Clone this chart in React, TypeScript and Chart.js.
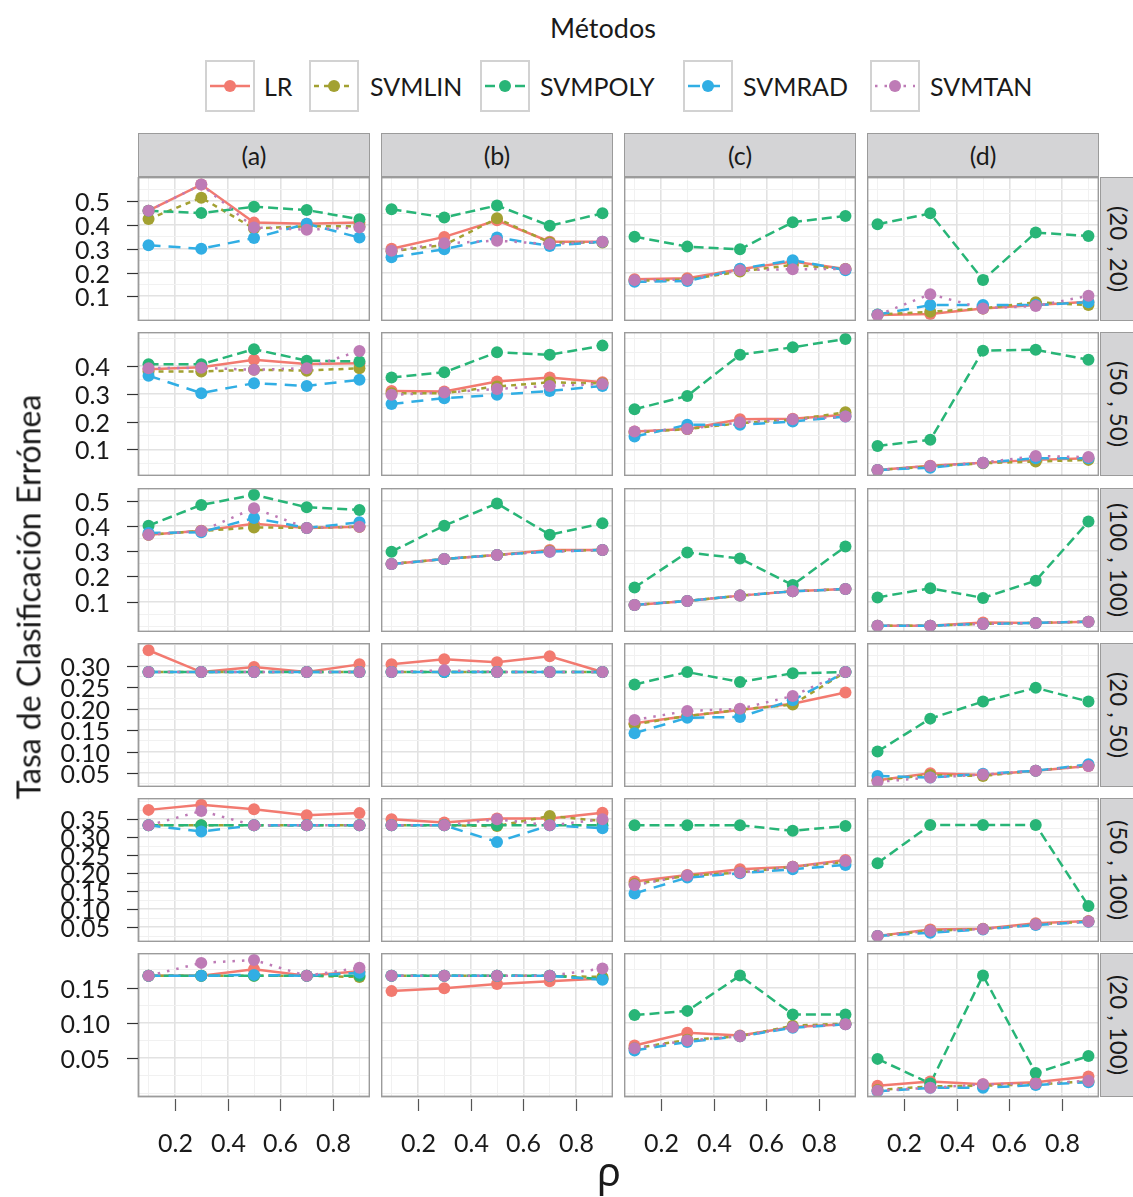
import React, { useEffect, useRef } from 'react';
import { Chart, registerables } from 'chart.js';

Chart.register(...registerables);

// ---------- categories / axes ----------
const RHO = [0.1, 0.3, 0.5, 0.7, 0.9];
const X_TICKS = [0.2, 0.4, 0.6, 0.8];
const X_MINOR = [0.1, 0.3, 0.5, 0.7, 0.9];
const X_LIMITS = [0.06, 0.94];
const METHODS = ['LR', 'SVMLIN', 'SVMPOLY', 'SVMRAD', 'SVMTAN'];
const COLUMN_LABELS = ['(a)', '(b)', '(c)', '(d)'];
const ROW_LABELS = ['(20 , 20)', '(50 , 50)', '(100 , 100)', '(20 , 50)', '(50 , 100)', '(20 , 100)'];
const Y_TICKS = [
  [0.1, 0.2, 0.3, 0.4, 0.5],
  [0.1, 0.2, 0.3, 0.4],
  [0.1, 0.2, 0.3, 0.4, 0.5],
  [0.05, 0.1, 0.15, 0.2, 0.25, 0.3],
  [0.05, 0.1, 0.15, 0.2, 0.25, 0.3, 0.35],
  [0.05, 0.1, 0.15],
];
const Y_DECIMALS = [1, 1, 1, 2, 2, 2];
const Y_LIMITS = [
  [-0.004, 0.602],
  [0.004, 0.522],
  [-0.02, 0.55],
  [0.017, 0.354],
  [0.009, 0.409],
  [-0.005, 0.199],
];

// ---------- series values: [panel (a),(b),(c),(d)][rho 0.1..0.9] ----------
// row (20 , 20)
const LR_20_20 = [[0.46, 0.57, 0.41, 0.405, 0.41], [0.3, 0.35, 0.42, 0.33, 0.33], [0.172, 0.176, 0.214, 0.246, 0.215], [0.021, 0.025, 0.049, 0.063, 0.077]];
const SVMLIN_20_20 = [[0.425, 0.515, 0.385, 0.395, 0.395], [0.29, 0.316, 0.428, 0.326, 0.326], [0.165, 0.17, 0.204, 0.232, 0.215], [0.023, 0.035, 0.049, 0.075, 0.063]];
const SVMPOLY_20_20 = [[0.46, 0.45, 0.477, 0.463, 0.424], [0.466, 0.432, 0.482, 0.397, 0.449], [0.351, 0.309, 0.298, 0.412, 0.438], [0.403, 0.449, 0.169, 0.368, 0.354]];
const SVMRAD_20_20 = [[0.315, 0.3, 0.345, 0.405, 0.347], [0.264, 0.298, 0.347, 0.312, 0.33], [0.161, 0.164, 0.216, 0.252, 0.21], [0.023, 0.063, 0.063, 0.063, 0.075]];
const SVMTAN_20_20 = [[0.46, 0.57, 0.39, 0.38, 0.39], [0.292, 0.323, 0.334, 0.32, 0.33], [0.168, 0.17, 0.21, 0.214, 0.215], [0.021, 0.109, 0.049, 0.059, 0.102]];
// row (50 , 50)
const LR_50_50 = [[0.388, 0.395, 0.422, 0.407, 0.41], [0.31, 0.308, 0.344, 0.358, 0.341], [0.164, 0.173, 0.208, 0.21, 0.224], [0.026, 0.041, 0.052, 0.062, 0.068]];
const SVMLIN_50_50 = [[0.38, 0.38, 0.386, 0.383, 0.392], [0.302, 0.302, 0.326, 0.341, 0.337], [0.16, 0.173, 0.194, 0.206, 0.233], [0.026, 0.038, 0.05, 0.056, 0.062]];
const SVMPOLY_50_50 = [[0.406, 0.406, 0.46, 0.419, 0.416], [0.358, 0.377, 0.449, 0.44, 0.473], [0.244, 0.292, 0.44, 0.467, 0.497], [0.112, 0.134, 0.455, 0.458, 0.422]];
const SVMRAD_50_50 = [[0.365, 0.302, 0.338, 0.328, 0.35], [0.263, 0.284, 0.296, 0.31, 0.328], [0.146, 0.188, 0.188, 0.2, 0.218], [0.026, 0.034, 0.052, 0.068, 0.068]];
const SVMTAN_50_50 = [[0.392, 0.393, 0.386, 0.392, 0.454], [0.296, 0.304, 0.317, 0.328, 0.335], [0.164, 0.173, 0.197, 0.208, 0.218], [0.026, 0.04, 0.052, 0.076, 0.072]];
// row (100 , 100)
const LR_100_100 = [[0.365, 0.381, 0.408, 0.392, 0.397], [0.249, 0.269, 0.285, 0.305, 0.305], [0.087, 0.103, 0.124, 0.141, 0.15], [0.005, 0.005, 0.018, 0.016, 0.021]];
const SVMLIN_100_100 = [[0.365, 0.38, 0.394, 0.392, 0.397], [0.249, 0.269, 0.285, 0.3, 0.305], [0.087, 0.103, 0.124, 0.141, 0.15], [0.005, 0.005, 0.012, 0.016, 0.021]];
const SVMPOLY_100_100 = [[0.401, 0.483, 0.523, 0.474, 0.463], [0.298, 0.401, 0.489, 0.365, 0.41], [0.156, 0.295, 0.271, 0.166, 0.318], [0.117, 0.153, 0.115, 0.183, 0.417]];
const SVMRAD_100_100 = [[0.372, 0.375, 0.431, 0.392, 0.414], [0.249, 0.269, 0.285, 0.298, 0.305], [0.087, 0.103, 0.124, 0.141, 0.15], [0.005, 0.005, 0.012, 0.016, 0.021]];
const SVMTAN_100_100 = [[0.365, 0.38, 0.47, 0.392, 0.397], [0.249, 0.269, 0.285, 0.298, 0.305], [0.087, 0.103, 0.124, 0.141, 0.15], [0.005, 0.005, 0.012, 0.016, 0.021]];
// row (20 , 50)
const LR_20_50 = [[0.337, 0.286, 0.298, 0.286, 0.304], [0.304, 0.316, 0.309, 0.323, 0.286], [0.166, 0.183, 0.197, 0.212, 0.238], [0.033, 0.049, 0.045, 0.055, 0.066]];
const SVMLIN_20_50 = [[0.286, 0.286, 0.286, 0.286, 0.286], [0.286, 0.286, 0.286, 0.286, 0.286], [0.164, 0.183, 0.198, 0.21, 0.286], [0.033, 0.045, 0.043, 0.055, 0.068]];
const SVMPOLY_20_50 = [[0.286, 0.286, 0.286, 0.286, 0.286], [0.286, 0.286, 0.286, 0.286, 0.286], [0.257, 0.286, 0.263, 0.283, 0.286], [0.1, 0.177, 0.217, 0.249, 0.217]];
const SVMRAD_20_50 = [[0.286, 0.286, 0.286, 0.286, 0.286], [0.286, 0.286, 0.286, 0.286, 0.286], [0.143, 0.179, 0.181, 0.22, 0.286], [0.043, 0.039, 0.048, 0.055, 0.07]];
const SVMTAN_20_50 = [[0.286, 0.286, 0.286, 0.286, 0.286], [0.286, 0.29, 0.286, 0.286, 0.286], [0.174, 0.195, 0.2, 0.23, 0.286], [0.029, 0.039, 0.046, 0.055, 0.066]];
// row (50 , 100)
const LR_50_100 = [[0.376, 0.39, 0.378, 0.361, 0.367], [0.35, 0.341, 0.352, 0.352, 0.368], [0.177, 0.195, 0.211, 0.218, 0.237], [0.026, 0.044, 0.046, 0.061, 0.067]];
const SVMLIN_50_100 = [[0.333, 0.333, 0.333, 0.333, 0.333], [0.333, 0.333, 0.331, 0.359, 0.345], [0.17, 0.193, 0.202, 0.218, 0.231], [0.026, 0.04, 0.045, 0.058, 0.066]];
const SVMPOLY_50_100 = [[0.333, 0.333, 0.333, 0.333, 0.333], [0.333, 0.333, 0.333, 0.333, 0.333], [0.333, 0.333, 0.333, 0.318, 0.331], [0.228, 0.334, 0.334, 0.334, 0.109]];
const SVMRAD_50_100 = [[0.333, 0.316, 0.333, 0.333, 0.333], [0.333, 0.333, 0.287, 0.333, 0.325], [0.144, 0.188, 0.2, 0.211, 0.223], [0.026, 0.035, 0.044, 0.056, 0.065]];
const SVMTAN_50_100 = [[0.333, 0.373, 0.333, 0.333, 0.333], [0.333, 0.333, 0.35, 0.333, 0.35], [0.167, 0.194, 0.202, 0.218, 0.234], [0.026, 0.04, 0.045, 0.058, 0.066]];
// row (20 , 100)
const LR_20_100 = [[0.1667, 0.1667, 0.176, 0.1667, 0.173], [0.145, 0.149, 0.155, 0.159, 0.163], [0.068, 0.086, 0.082, 0.094, 0.098], [0.011, 0.017, 0.013, 0.016, 0.024]];
const SVMLIN_20_100 = [[0.1667, 0.1667, 0.1667, 0.1667, 0.165], [0.1667, 0.1667, 0.1667, 0.1667, 0.165], [0.064, 0.076, 0.081, 0.096, 0.099], [0.005, 0.01, 0.011, 0.013, 0.017]];
const SVMPOLY_20_100 = [[0.1667, 0.1667, 0.1667, 0.1667, 0.1667], [0.1667, 0.1667, 0.1667, 0.1667, 0.162], [0.111, 0.117, 0.167, 0.112, 0.112], [0.049, 0.014, 0.167, 0.029, 0.053]];
const SVMRAD_20_100 = [[0.1667, 0.1667, 0.168, 0.1667, 0.171], [0.1667, 0.1667, 0.1667, 0.1667, 0.161], [0.061, 0.073, 0.081, 0.093, 0.098], [0.003, 0.008, 0.008, 0.012, 0.016]];
const SVMTAN_20_100 = [[0.1667, 0.185, 0.189, 0.1667, 0.178], [0.1667, 0.1667, 0.1667, 0.1667, 0.177], [0.064, 0.075, 0.081, 0.094, 0.098], [0.004, 0.008, 0.013, 0.014, 0.018]];

const SERIES_BY_ROW = [
  [LR_20_20, SVMLIN_20_20, SVMPOLY_20_20, SVMRAD_20_20, SVMTAN_20_20],
  [LR_50_50, SVMLIN_50_50, SVMPOLY_50_50, SVMRAD_50_50, SVMTAN_50_50],
  [LR_100_100, SVMLIN_100_100, SVMPOLY_100_100, SVMRAD_100_100, SVMTAN_100_100],
  [LR_20_50, SVMLIN_20_50, SVMPOLY_20_50, SVMRAD_20_50, SVMTAN_20_50],
  [LR_50_100, SVMLIN_50_100, SVMPOLY_50_100, SVMRAD_50_100, SVMTAN_50_100],
  [LR_20_100, SVMLIN_20_100, SVMPOLY_20_100, SVMRAD_20_100, SVMTAN_20_100],
];

// ---------- styles ----------
const COLORS = ['#F27A70', '#A3A132', '#28B577', '#31AEE4', '#BE7BB6'];
const DASHES = [[], [5, 5], [10, 5], [12, 8], [2.5, 7]];
const FONT = 'Lato, "Open Sans", sans-serif';
const TEXT = '#1a1a1a';
const MAJOR_GRID = '#e2e2e2';
const MINOR_GRID = '#f1f1f1';
const FRAME = '#9b9b9b';

const PANEL_LEFT = [138, 381, 624, 867];
const PANEL_W = 232;
const PANEL_TOP = [177, 332, 488, 643, 798, 953];
const PANEL_H = 144;
const BOTTOM_PAD = 80;

const round6 = (v: number) => Math.round(v * 1e6) / 1e6;

function gridValues(major: number[], lim: number[]): number[] {
  const step = round6(major[1] - major[0]);
  const out: number[] = [];
  for (let v = major[0] - step; v <= major[major.length - 1] + step + 1e-9; v += step / 2) {
    const r = round6(v);
    if (r >= lim[0] && r <= lim[1]) out.push(r);
  }
  return out;
}

function isIn(v: number, list: number[]) {
  return list.some((m) => Math.abs(m - v) < 1e-7);
}

function makeDeco(row: number, col: number) {
  return {
    id: 'panelDeco',
    afterDraw(chart: any) {
      const { ctx, chartArea: a } = chart;
      const xs = chart.scales.x;
      const ys = chart.scales.y;
      ctx.save();
      ctx.setLineDash([]);
      ctx.strokeStyle = FRAME;
      ctx.lineWidth = 1.8;
      ctx.strokeRect(a.left + 0.5, a.top + 0.5, a.right - a.left - 1, a.bottom - a.top - 1);
      ctx.fillStyle = TEXT;
      ctx.strokeStyle = '#333333';
      ctx.lineWidth = 1.2;
      ctx.font = `25px ${FONT}`;
      if (col === 0) {
        ctx.textAlign = 'right';
        ctx.textBaseline = 'middle';
        Y_TICKS[row].forEach((v) => {
          const y = Math.round(ys.getPixelForValue(v)) + 0.5;
          ctx.beginPath();
          ctx.moveTo(a.left - 11, y);
          ctx.lineTo(a.left, y);
          ctx.stroke();
          ctx.fillText(v.toFixed(Y_DECIMALS[row]), a.left - 28, y + 1);
        });
      }
      if (row === SERIES_BY_ROW.length - 1) {
        ctx.textAlign = 'center';
        ctx.textBaseline = 'middle';
        ctx.strokeStyle = '#555555';
        X_TICKS.forEach((v) => {
          const x = Math.round(xs.getPixelForValue(v)) + 0.5;
          ctx.beginPath();
          ctx.moveTo(x, a.bottom + 2);
          ctx.lineTo(x, a.bottom + 14);
          ctx.stroke();
          ctx.fillText(v.toFixed(1), x, a.bottom + 47);
        });
      }
      ctx.restore();
    },
  };
}

function Panel({ row, col }: { row: number; col: number }) {
  const ref = useRef<HTMLCanvasElement>(null);
  const padLeft = col === 0 ? PANEL_LEFT[0] : 0;
  const padBottom = row === SERIES_BY_ROW.length - 1 ? BOTTOM_PAD : 0;
  const w = PANEL_W + padLeft;
  const h = PANEL_H + padBottom;

  useEffect(() => {
    if (!ref.current) return;
    const series = SERIES_BY_ROW[row];
    const yMajor = Y_TICKS[row];
    const yLim = Y_LIMITS[row];
    const yGrid = gridValues(yMajor, yLim);
    const xGrid = [...X_TICKS, ...X_MINOR].sort((p, q) => p - q);

    const lineSets = METHODS.map((m, s) => ({
      label: m,
      data: RHO.map((x, i) => ({ x, y: series[s][col][i] })),
      borderColor: COLORS[s],
      backgroundColor: COLORS[s],
      borderWidth: 2.5,
      borderDash: DASHES[s],
      pointRadius: 0,
      tension: 0,
      fill: false,
      order: 5 + (METHODS.length - 1 - s),
    }));
    const pointSets = METHODS.map((m, s) => ({
      label: m + ' points',
      data: RHO.map((x, i) => ({ x, y: series[s][col][i] })),
      showLine: false,
      borderColor: COLORS[s],
      backgroundColor: COLORS[s],
      pointBackgroundColor: COLORS[s],
      pointBorderWidth: 0,
      pointRadius: 6,
      order: METHODS.length - 1 - s,
    }));

    const gridOpts = (major: number[]) => ({
      drawTicks: false,
      color: (c: any) => (c.tick && isIn(c.tick.value, major) ? MAJOR_GRID : MINOR_GRID),
      lineWidth: (c: any) => (c.tick && isIn(c.tick.value, major) ? 1.6 : 1),
    });

    const chart = new Chart(ref.current, {
      type: 'line',
      data: { datasets: [...lineSets, ...pointSets] as any },
      plugins: [makeDeco(row, col)],
      options: {
        animation: false,
        responsive: false,
        maintainAspectRatio: false,
        devicePixelRatio: 1,
        events: [],
        layout: { autoPadding: false, padding: { left: padLeft, bottom: padBottom, top: 0, right: 0 } },
        plugins: { legend: { display: false }, tooltip: { enabled: false }, title: { display: false } },
        scales: {
          x: {
            type: 'linear',
            min: X_LIMITS[0],
            max: X_LIMITS[1],
            ticks: { display: false },
            border: { display: false },
            grid: gridOpts(X_TICKS) as any,
            afterBuildTicks: (s: any) => {
              s.ticks = xGrid.map((v) => ({ value: v }));
            },
            afterFit: (s: any) => {
              s.height = 0;
            },
          },
          y: {
            type: 'linear',
            min: yLim[0],
            max: yLim[1],
            ticks: { display: false },
            border: { display: false },
            grid: gridOpts(yMajor) as any,
            afterBuildTicks: (s: any) => {
              s.ticks = yGrid.map((v) => ({ value: v }));
            },
            afterFit: (s: any) => {
              s.width = 0;
            },
          },
        },
      } as any,
    });
    return () => chart.destroy();
  }, [row, col]);

  return (
    <canvas
      ref={ref}
      width={w}
      height={h}
      style={{ position: 'absolute', left: PANEL_LEFT[col] - padLeft, top: PANEL_TOP[row], width: w, height: h }}
    />
  );
}

const LEGEND_KEY_LEFT = [205, 309, 480, 683, 870];
const LEGEND_TEXT_LEFT = [264, 370, 540, 743, 930];

export default function App() {
  const panels: React.ReactNode[] = [];
  SERIES_BY_ROW.forEach((_, r) => {
    COLUMN_LABELS.forEach((__, c) => {
      panels.push(<Panel key={`${r}-${c}`} row={r} col={c} />);
    });
  });

  return (
    <div
      style={{
        position: 'absolute',
        left: 0,
        top: 0,
        width: 1133,
        height: 1197,
        overflow: 'hidden',
        background: '#ffffff',
        fontFamily: FONT,
        color: TEXT,
      }}
    >
      {/* legend */}
      <div style={{ position: 'absolute', left: 503, top: 10, width: 200, textAlign: 'center', fontSize: 27, lineHeight: '36px' }}>
        Métodos
      </div>
      {METHODS.map((m, s) => (
        <React.Fragment key={m}>
          <svg width={50} height={52} style={{ position: 'absolute', left: LEGEND_KEY_LEFT[s], top: 60 }}>
            <rect x={1} y={1} width={48} height={50} fill="#ffffff" stroke="#d2d2d2" strokeWidth={2} />
            <line x1={5} x2={45} y1={26} y2={26} stroke={COLORS[s]} strokeWidth={2.5} strokeDasharray={DASHES[s].length ? DASHES[s].join(' ') : undefined} />
            <circle cx={25} cy={26} r={6} fill={COLORS[s]} />
          </svg>
          <div style={{ position: 'absolute', left: LEGEND_TEXT_LEFT[s], top: 70, fontSize: 25, lineHeight: '32px', whiteSpace: 'nowrap' }}>{m}</div>
        </React.Fragment>
      ))}

      {/* column strips */}
      {COLUMN_LABELS.map((lab, c) => (
        <div
          key={lab}
          style={{
            position: 'absolute',
            left: PANEL_LEFT[c],
            top: 133,
            width: PANEL_W,
            height: 44,
            boxSizing: 'border-box',
            background: '#d4d4d6',
            border: `1.8px solid ${FRAME}`,
            display: 'flex',
            alignItems: 'center',
            justifyContent: 'center',
            fontSize: 25,
          }}
        >
          {lab}
        </div>
      ))}

      {/* row strips */}
      {ROW_LABELS.map((lab, r) => (
        <div
          key={lab}
          style={{
            position: 'absolute',
            left: 1100,
            top: PANEL_TOP[r],
            width: 44,
            height: PANEL_H,
            boxSizing: 'border-box',
            background: '#d4d4d6',
            border: `1.8px solid ${FRAME}`,
            overflow: 'hidden',
          }}
        >
          <div
            style={{
              position: 'absolute',
              left: 18,
              top: PANEL_H / 2 - 1,
              transform: 'translate(-50%, -50%) rotate(90deg)',
              whiteSpace: 'nowrap',
              fontSize: 24,
            }}
          >
            {lab}
          </div>
        </div>
      ))}

      {panels}

      {/* axis titles */}
      <div
        style={{
          position: 'absolute',
          left: 28,
          top: 597,
          transform: 'translate(-50%, -50%) rotate(-90deg)',
          whiteSpace: 'nowrap',
          fontSize: 32,
        }}
      >
        Tasa de Clasificación Errónea
      </div>
      <div
        style={{
          position: 'absolute',
          left: 609,
          top: 1170,
          transform: 'translate(-50%, -50%)',
          fontSize: 40,
          fontFamily: '"Noto Sans", "DejaVu Sans", sans-serif',
        }}
      >
        ρ
      </div>
    </div>
  );
}
